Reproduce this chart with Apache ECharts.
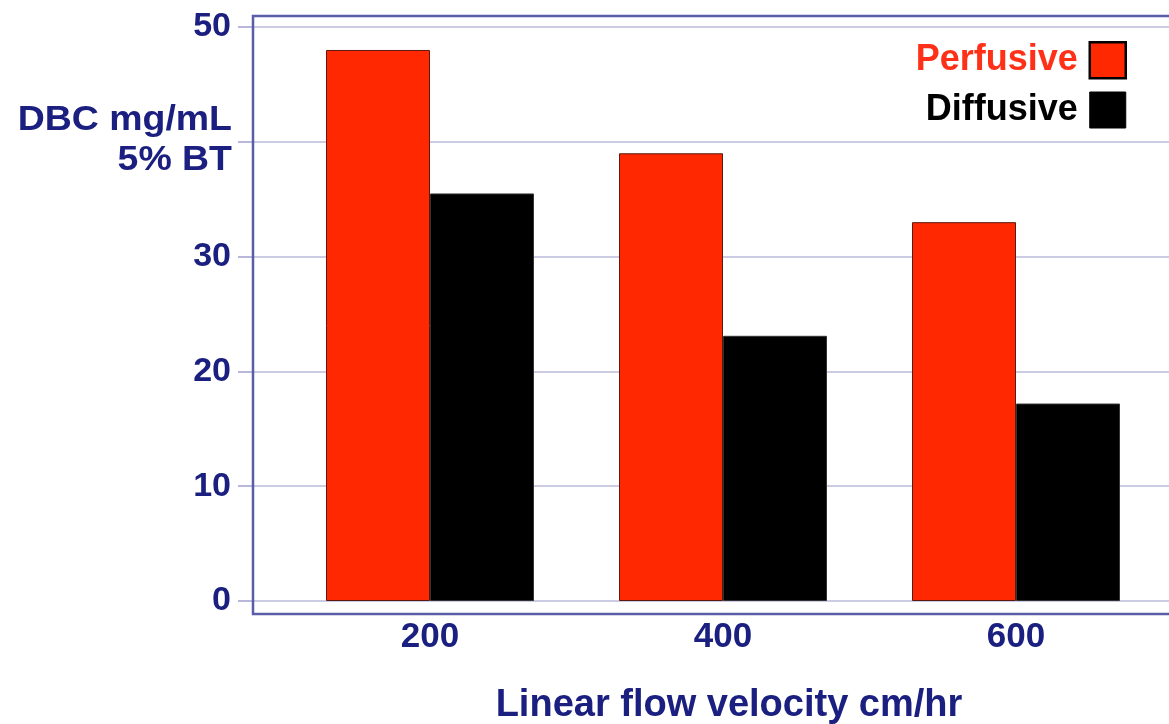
<!DOCTYPE html>
<html>
<head>
<meta charset="utf-8">
<script src="https://cdn.jsdelivr.net/npm/echarts@6/dist/echarts.min.js"></script>
<style>html,body{margin:0;padding:0;background:#fff;}#c{width:1169px;height:724px;}</style>
</head>
<body>
<div id="c"></div>
<script>
var categories = ['200', '400', '600'];
var perfusive = [48, 39, 33];
var diffusive = [35.5, 23.1, 17.2];
var yTicks = [0, 10, 20, 30, 40, 50];
var hiddenTickLabels = [40];

var NAVY = '#1b2080';
var RED = '#ff2800';
var FONT = '"Liberation Sans", Arial, sans-serif';

var chart = echarts.init(document.getElementById('c'), null, {renderer: 'canvas'});
chart.setOption({
  animation: false,
  backgroundColor: '#ffffff',
  grid: [
    {left: 283.5, right: 6.5, top: 27, bottom: 123, outerBoundsMode: 'none', containLabel: false},
    {left: 253, right: 0, top: 27, bottom: 123, outerBoundsMode: 'none', containLabel: false}
  ],
  legend: {
    orient: 'vertical',
    right: 37,
    top: 36,
    align: 'right',
    itemWidth: 36,
    itemHeight: 36,
    itemGap: 12,
    selectedMode: false,
    textStyle: {fontFamily: FONT, fontWeight: 'bold', fontSize: 36, padding: [0, 7, 0, 0]},
    data: [
      {name: 'Perfusive', icon: 'rect', textStyle: {color: '#ff3018'}, itemStyle: {borderColor: '#000', borderWidth: 2.5}},
      {name: 'Diffusive', icon: 'rect', textStyle: {color: '#000'}, itemStyle: {borderColor: '#000', borderWidth: 1}}
    ]
  },
  xAxis: [
    {
      gridIndex: 0,
      type: 'category',
      data: categories,
      axisLine: {show: false},
      axisTick: {show: false},
      axisLabel: {color: NAVY, fontFamily: FONT, fontWeight: 'bold', fontSize: 35, margin: 19},
      name: 'Linear flow velocity cm/hr',
      nameLocation: 'middle',
      nameGap: 86,
      nameTextStyle: {color: NAVY, fontFamily: FONT, fontWeight: 'bold', fontSize: 38, padding: [0, 0, 0, 12]}
    },
    {
      gridIndex: 1,
      type: 'category',
      data: categories,
      show: false
    }
  ],
  yAxis: [
    {
      gridIndex: 0,
      type: 'value',
      min: 0, max: 50, interval: 10,
      show: false,
      splitLine: {show: false}
    },
    {
      gridIndex: 1,
      type: 'value',
      min: yTicks[0], max: yTicks[yTicks.length - 1], interval: 10,
      axisLine: {show: false},
      axisTick: {show: true, length: 15, lineStyle: {color: '#b8b9da', width: 2}},
      splitLine: {show: true, lineStyle: {color: '#cbcbe4', width: 2}},
      axisLabel: {
        color: NAVY, fontFamily: FONT, fontWeight: 'bold', fontSize: 34, margin: 22,
        formatter: function (v) { return hiddenTickLabels.indexOf(v) >= 0 ? '' : String(v); }
      }
    }
  ],
  graphic: [
    {
      type: 'rect',
      z: 10,
      shape: {x: 253, y: 16, width: 1000, height: 598},
      style: {fill: 'none', stroke: '#5a5ea8', lineWidth: 2.5}
    },
    {
      type: 'text',
      z: 10,
      x: 232, y: 100,
      scaleX: 1.07,
      style: {
        text: 'DBC mg/mL\n5% BT',
        align: 'right',
        verticalAlign: 'top',
        fill: NAVY,
        font: 'bold 35px ' + FONT,
        lineHeight: 40
      }
    }
  ],
  series: [
    {
      name: 'Perfusive',
      type: 'bar',
      xAxisIndex: 0, yAxisIndex: 0,
      data: perfusive,
      barWidth: 104,
      barGap: '0%',
      itemStyle: {color: RED, borderColor: '#5a1a10', borderWidth: 1}
    },
    {
      name: 'Diffusive',
      type: 'bar',
      xAxisIndex: 0, yAxisIndex: 0,
      data: diffusive,
      barWidth: 104,
      barGap: '0%',
      itemStyle: {color: '#000000', borderColor: '#333', borderWidth: 1}
    }
  ]
});
</script>
</body>
</html>
